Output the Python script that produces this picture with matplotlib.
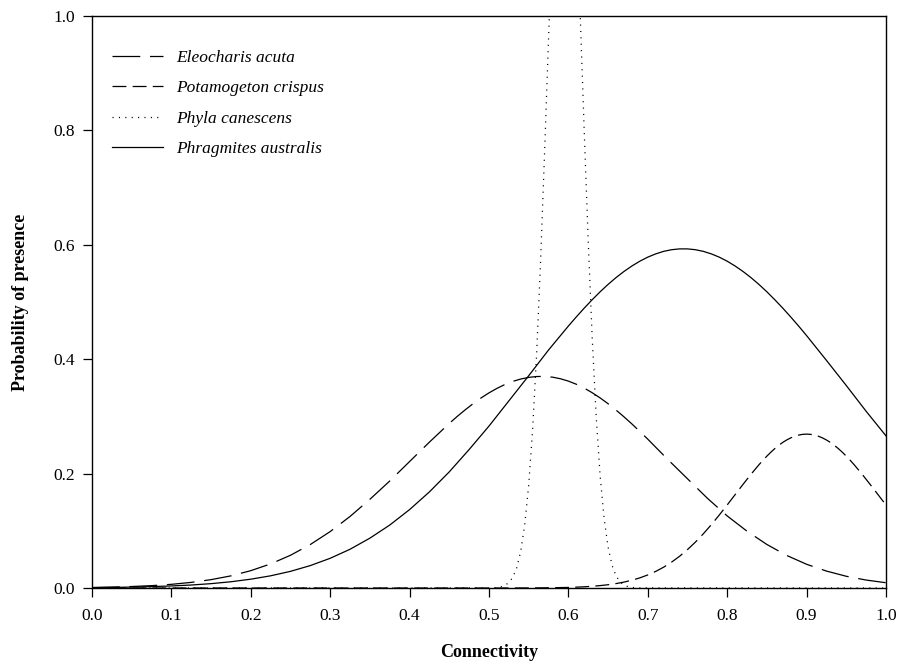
import numpy as np
import matplotlib
matplotlib.use('Agg')
from matplotlib import pyplot as plt

# Eleocharis acuta: connectivity / probability of presence
conn_eleo = [0.0, 0.025, 0.05, 0.075, 0.1, 0.125, 0.15, 0.175, 0.2, 0.225,
             0.25, 0.275, 0.3, 0.325, 0.35, 0.375, 0.4, 0.425,
             0.45, 0.46, 0.47, 0.48, 0.49, 0.5, 0.51, 0.52, 0.53, 0.54,
             0.55, 0.56, 0.57, 0.58, 0.59, 0.6, 0.61, 0.62, 0.63, 0.64,
             0.65, 0.66, 0.67, 0.68, 0.69, 0.7,
             0.725, 0.75, 0.775, 0.8, 0.825, 0.85, 0.875, 0.9, 0.925, 0.95, 0.975, 1.0]
eleocharis = [0.0009, 0.0016, 0.0026, 0.0041, 0.0064, 0.0098, 0.0146, 0.0212, 0.0303, 0.0421,
              0.0572, 0.0760, 0.0986, 0.125, 0.155, 0.187, 0.221, 0.255,
              0.2877, 0.2999, 0.3114, 0.3222, 0.3322, 0.3411, 0.3489, 0.3557, 0.3612, 0.3653,
              0.3682, 0.3697, 0.3699, 0.3686, 0.3658, 0.3617, 0.3562, 0.3494, 0.3414, 0.3323,
              0.3222, 0.3111, 0.2993, 0.2868, 0.2737, 0.2602,
              0.225, 0.191, 0.157, 0.126, 0.0993, 0.0761, 0.0569, 0.0415, 0.0296, 0.0205, 0.0139, 0.0092]

# Potamogeton crispus
conn_pota = [0.0, 0.5, 0.55, 0.575,
             0.6, 0.61, 0.62, 0.63, 0.64, 0.65, 0.66, 0.67, 0.68, 0.69,
             0.7, 0.71, 0.72, 0.73, 0.74, 0.75, 0.76, 0.77, 0.78, 0.79,
             0.8, 0.81, 0.82, 0.83, 0.84, 0.845, 0.85, 0.855, 0.86, 0.865,
             0.87, 0.875, 0.88, 0.885, 0.89, 0.895, 0.9, 0.905, 0.91, 0.915,
             0.92, 0.925, 0.93, 0.935, 0.94, 0.945, 0.95, 0.955, 0.96,
             0.97, 0.98, 0.99, 1.0]
potamogeton = [0.0, 0.0, 0.0001, 0.0004,
               0.0010, 0.0015, 0.0021, 0.0030, 0.0042, 0.0057, 0.0077, 0.0103, 0.0136, 0.0177,
               0.0228, 0.0290, 0.0364, 0.0452, 0.0554, 0.0671, 0.0802, 0.0948, 0.1106, 0.1275,
               0.1451, 0.1632, 0.1812, 0.1988, 0.2154, 0.2232, 0.2305, 0.2374, 0.2437, 0.2494,
               0.2545, 0.2588, 0.2624, 0.2653, 0.2673, 0.2686, 0.2690, 0.2686, 0.2673, 0.2653,
               0.2624, 0.2588, 0.2545, 0.2494, 0.2437, 0.2374, 0.2305, 0.2232, 0.2154,
               0.1988, 0.1812, 0.1632, 0.1451]

# Phyla canescens (narrow peak, runs off the top of the axes)
conn_phyla = [0.0, 0.5, 0.505, 0.51, 0.515, 0.52, 0.525, 0.53, 0.535, 0.54,
              0.545, 0.55, 0.555, 0.56, 0.565, 0.57, 0.575, 0.58, 0.585, 0.59,
              0.595, 0.6, 0.605, 0.61, 0.615, 0.62, 0.625, 0.63, 0.635, 0.64,
              0.645, 0.65, 0.655, 0.66, 0.665, 0.67, 0.675, 0.68, 0.685, 0.69, 1.0]
phyla = [0.0, 0.0001, 0.0004, 0.0009, 0.0020, 0.0045, 0.0094, 0.0187, 0.0355, 0.0640,
         0.110, 0.179, 0.277, 0.408, 0.571, 0.759, 0.959, 1.151, 1.314, 1.425,
         1.470, 1.440, 1.341, 1.187, 0.998, 0.798, 0.607, 0.438, 0.301, 0.196,
         0.122, 0.0716, 0.0401, 0.0213, 0.0108, 0.0052, 0.0024, 0.0010, 0.0004, 0.0002, 0.0]

# Phragmites australis
conn_phrag = [0.0, 0.025, 0.05, 0.075, 0.1, 0.125, 0.15, 0.175, 0.2, 0.225,
              0.25, 0.275, 0.3, 0.325, 0.35, 0.375, 0.4, 0.425, 0.45, 0.475,
              0.5, 0.525, 0.55, 0.575,
              0.6, 0.61, 0.62, 0.63, 0.64, 0.65, 0.66, 0.67, 0.68, 0.69,
              0.7, 0.71, 0.72, 0.73, 0.74, 0.75, 0.76, 0.77, 0.78, 0.79,
              0.8, 0.81, 0.82, 0.83, 0.84, 0.85, 0.86, 0.87, 0.88, 0.89,
              0.9, 0.925, 0.95, 0.975, 1.0]
phragmites = [0.0006, 0.0010, 0.0016, 0.0024, 0.0036, 0.0052, 0.0076, 0.0109, 0.0154, 0.0213,
              0.0291, 0.0392, 0.0519, 0.0677, 0.0871, 0.110, 0.137, 0.168, 0.203, 0.242,
              0.283, 0.327, 0.371, 0.416,
              0.4579, 0.4739, 0.4893, 0.5039, 0.5178, 0.5307, 0.5426, 0.5533, 0.5629, 0.5713,
              0.5784, 0.5841, 0.5885, 0.5914, 0.5928, 0.5928, 0.5914, 0.5885, 0.5841, 0.5784,
              0.5713, 0.5629, 0.5533, 0.5426, 0.5307, 0.5178, 0.5039, 0.4893, 0.4739, 0.4579,
              0.4413, 0.398, 0.354, 0.309, 0.266]

xticks = [0.0, 0.1, 0.2, 0.3, 0.4, 0.5, 0.6, 0.7, 0.8, 0.9, 1.0]
yticks = [0.0, 0.2, 0.4, 0.6, 0.8, 1.0]

plt.rcParams['font.family'] = ['Liberation Serif', 'DejaVu Serif']
plt.rcParams['lines.scale_dashes'] = False

fig = plt.figure(figsize=(8.98, 6.71), dpi=100)
ax = fig.add_axes([0.1024, 0.1237, 0.8842, 0.8525])

lw = 0.9
ax.plot(conn_eleo, eleocharis, color='black', lw=lw, dashes=(20, 7), label='Eleocharis acuta')
ax.plot(conn_pota, potamogeton, color='black', lw=lw, dashes=(10, 4.5), label='Potamogeton crispus')
ax.plot(conn_phyla, phyla, color='black', lw=lw, dashes=(0.8, 3.8), label='Phyla canescens')
ax.plot(conn_phrag, phragmites, color='black', lw=lw, label='Phragmites australis')

ax.set_xlim(0, 1.0)
ax.set_ylim(0, 1.0)
ax.set_xticks(xticks)
ax.set_yticks(yticks)
ax.set_xticklabels(['%.1f' % t for t in xticks])
ax.set_yticklabels(['%.1f' % t for t in yticks])
ax.tick_params(direction='out', length=6.5, width=0.9, labelsize=12.5, top=False, right=False)
ax.tick_params(axis='x', pad=8)
ax.tick_params(axis='y', pad=6)
for sp in ax.spines.values():
    sp.set_linewidth(1.0)

ax.set_xlabel('Connectivity', fontsize=13, fontweight='bold')
ax.set_ylabel('Probability of presence', fontsize=13, fontweight='bold')
ax.xaxis.label.set_va('center')
ax.yaxis.label.set_va('center')
ax.xaxis.set_label_coords(0.5, -0.1136)
ax.yaxis.set_label_coords(-0.0895, 0.5)

leg = ax.legend(loc='upper left', bbox_to_anchor=(0.025, 0.9405), frameon=False,
                borderpad=0, borderaxespad=0, handlelength=2.94, handletextpad=0.75,
                labelspacing=0.81, prop={'style': 'italic', 'size': 12.5})

fig.savefig('out.png', dpi=100)
